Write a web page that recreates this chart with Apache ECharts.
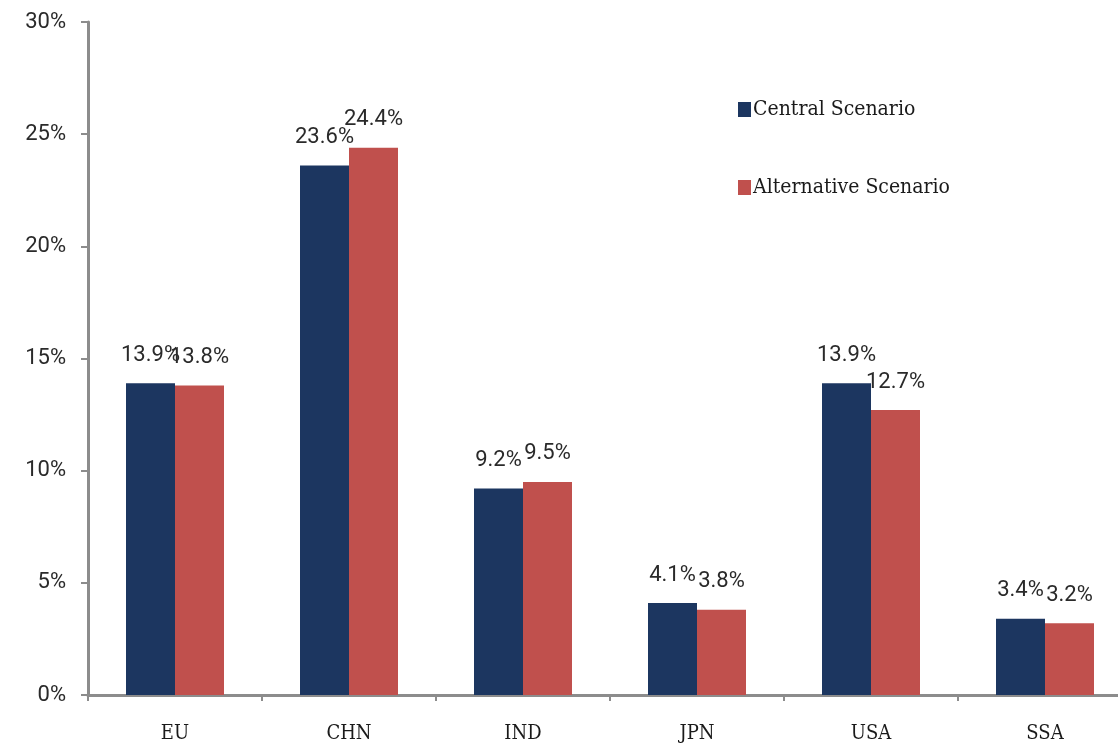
<!DOCTYPE html>
<html>
<head>
<meta charset="utf-8">
<script src="https://cdn.jsdelivr.net/npm/echarts@6/dist/echarts.min.js"></script>
<style>
  html, body { margin: 0; padding: 0; background: #fff; overflow: hidden; }
  /* the plot runs slightly past the right edge of the window */
  #chart { width: 1132px; height: 747px; }
</style>
</head>
<body>
<div id="chart"></div>
<script>
// Regional shares under two scenarios (percent)
const categories = ['EU', 'CHN', 'IND', 'JPN', 'USA', 'SSA'];
const centralScenario = [13.9, 23.6, 9.2, 4.1, 13.9, 3.4];
const alternativeScenario = [13.8, 24.4, 9.5, 3.8, 12.7, 3.2];
const seriesNames = ['Central Scenario', 'Alternative Scenario'];

const sans = 'Roboto, "Liberation Sans", sans-serif';
const serif = '"DejaVu Serif Condensed", "DejaVu Serif", serif';

const valueLabel = {
  show: true,
  position: 'top',
  distance: 17,
  fontFamily: sans,
  fontSize: 22,
  color: '#2a2a2a',
  formatter: p => p.value.toFixed(1) + '%'
};

const chart = echarts.init(document.getElementById('chart'));
chart.setOption({
  animation: false,
  backgroundColor: '#ffffff',
  grid: { left: 88, top: 22, right: 0, bottom: 52, containLabel: false },
  legend: {
    orient: 'vertical',
    left: 733,
    top: 94,
    itemWidth: 13,
    itemHeight: 15,
    itemGap: 57,
    icon: 'rect',
    textStyle: { fontFamily: serif, fontSize: 21, color: '#1a1a1a', padding: [0, 0, 0, -3] },
    data: seriesNames
  },
  xAxis: {
    type: 'category',
    data: categories,
    axisLine: { lineStyle: { color: '#8c8c8c', width: 3 } },
    axisTick: { show: true, length: 6, lineStyle: { color: '#8c8c8c', width: 2 } },
    axisLabel: { fontFamily: serif, fontSize: 20, color: '#1a1a1a', margin: 29 }
  },
  yAxis: {
    type: 'value',
    min: 0,
    max: 30,
    interval: 5,
    axisLine: { show: true, lineStyle: { color: '#8c8c8c', width: 3 } },
    axisTick: { show: true, length: 7, lineStyle: { color: '#8c8c8c', width: 2 } },
    splitLine: { show: false },
    axisLabel: {
      fontFamily: sans,
      fontSize: 22,
      color: '#2a2a2a',
      margin: 22,
      padding: [7, 0, 0, 0],
      formatter: v => v + '%'
    }
  },
  series: [
    {
      name: seriesNames[0],
      type: 'bar',
      data: centralScenario,
      barWidth: 49,
      barGap: '0%',
      itemStyle: { color: '#1c3660' },
      label: valueLabel
    },
    {
      name: seriesNames[1],
      type: 'bar',
      data: alternativeScenario,
      barWidth: 49,
      barGap: '0%',
      itemStyle: { color: '#c0504d' },
      label: valueLabel
    }
  ]
});
</script>
</body>
</html>
